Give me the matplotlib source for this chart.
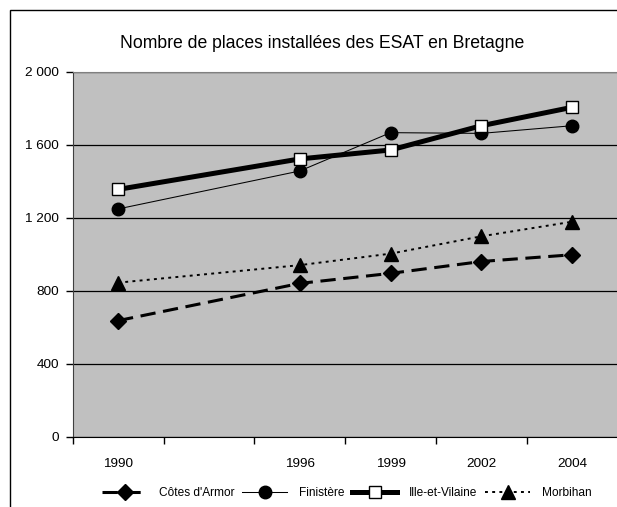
import numpy as np
import matplotlib
matplotlib.use("Agg")
import matplotlib.pyplot as plt
from matplotlib.patches import Rectangle

plt.rcParams['font.family'] = ['Liberation Sans', 'DejaVu Sans']

# categories of the Excel category axis (second slot has no label / no data)
years = ['1990', '', '1996', '1999', '2002', '2004']

cotes_armor = [636, None, 840, 895, 960, 997]
finistere = [1248, None, 1456, 1666, 1662, 1704]
ille_vilaine = [1355, None, 1522, 1571, 1704, 1805]
morbihan = [844, None, 940, 1003, 1098, 1178]

W, H = 617, 507
fig = plt.figure(figsize=(W / 100, H / 100), dpi=100)

# outer chart frame (cropped on the right and at the bottom)
fig.patches.append(Rectangle((10 / W, -0.1), 1.2, 1.1 - 10 / H,
                             transform=fig.transFigure, fill=False,
                             edgecolor='black', linewidth=1.0))

ax = fig.add_axes([72.7 / W, (H - 436.7) / H, 1 - 72.7 / W + 0.001, 365 / H])
ax.set_facecolor('#C0C0C0')

x = np.arange(len(years))


def draw(vals, **kw):
    idx = [i for i, v in enumerate(vals) if v is not None]
    ax.plot(x[idx], [vals[i] for i in idx], **kw)


draw(cotes_armor, color='black', lw=2.2, dashes=(5, 2.5), marker='D', ms=8,
     mfc='black', mec='black', label="Côtes d'Armor", zorder=3)
draw(finistere, color='black', lw=0.75, marker='o', ms=9,
     mfc='black', mec='black', label='Finistère', zorder=3)
draw(ille_vilaine, color='black', lw=3.6, marker='s', ms=8.5,
     mfc='white', mec='black', mew=1.0, label='Ille-et-Vilaine', zorder=4)
draw(morbihan, color='black', lw=1.4, dashes=(1.5, 2.2), marker='^', ms=10,
     mfc='black', mec='black', label='Morbihan', zorder=3)

ax.set_xlim(-0.5, len(years) - 0.5)
ax.set_ylim(0, 2000)
ax.set_yticks(np.arange(0, 2001, 400))
ax.set_yticklabels(['0', '400', '800', '1 200', '1 600', '2 000'])
ax.set_xticks(x)
ax.set_xticklabels(years)
ax.set_xticks(np.arange(-0.5, len(years), 1), minor=True)
ax.tick_params(axis='x', which='major', length=0, pad=15.5, labelsize=9.7)
ax.tick_params(axis='x', which='minor', length=5, width=1, direction='out')
ax.tick_params(axis='y', length=5, width=1, direction='out', pad=5, labelsize=9.7)

ax.grid(axis='y', color='black', lw=0.9)
ax.set_axisbelow(True)
for s in ['top', 'right']:
    ax.spines[s].set_color('#808080')
ax.spines['left'].set_color('#404040')
ax.spines['bottom'].set_color('black')

fig.text(322 / W, 1 - 44 / H, 'Nombre de places installées des ESAT en Bretagne',
         ha='center', va='center', fontsize=12.7)

fig.legend(loc='center left', bbox_to_anchor=(102 / W, 1 - 493 / H), ncol=4,
           frameon=False, fontsize=8.6, handlelength=3.77, handletextpad=0.97,
           columnspacing=0.67, numpoints=1, borderaxespad=0, borderpad=0)

fig.savefig('out.png', dpi=100)
